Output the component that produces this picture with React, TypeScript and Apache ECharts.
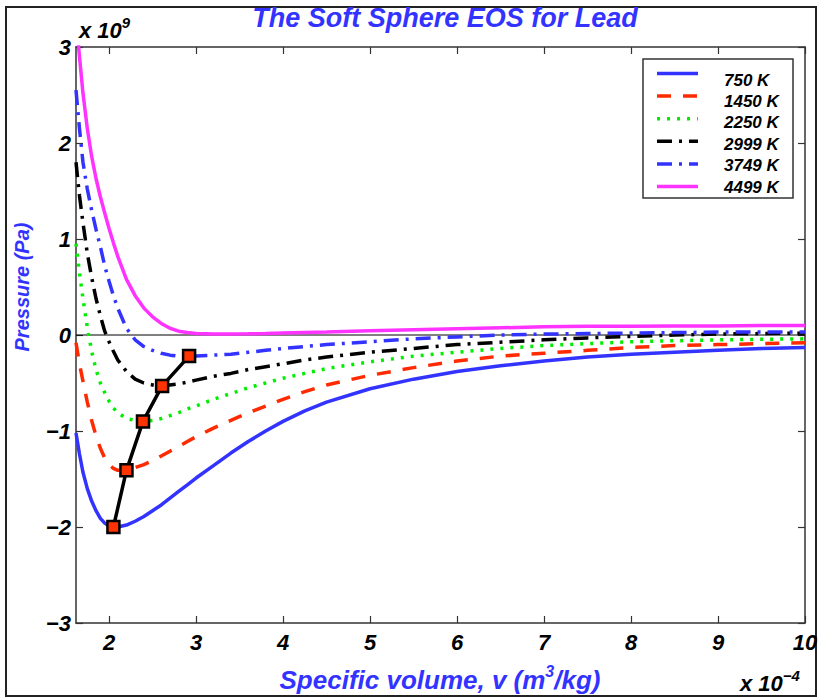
import React, { useEffect, useRef } from 'react';
import * as echarts from 'echarts';

// Specific volume (x 1e-4 m^3/kg)
const volumes = [1.62, 1.66, 1.70, 1.75, 1.80, 1.85, 1.90, 1.95, 2.00, 2.05, 2.10, 2.20, 2.30, 2.40, 2.50, 2.60, 2.70, 2.80, 2.90, 3.00, 3.20, 3.40, 3.60, 3.80, 4.00, 4.25, 4.50, 5.00, 5.50, 6.00, 6.50, 7.00, 7.50, 8.00, 8.50, 9.00, 9.50, 10.0];

// Pressure (x 1e9 Pa)
const p750 = [-1.02, -1.24, -1.43, -1.60, -1.73, -1.83, -1.91, -1.96, -1.99, -2.00, -2.00, -1.98, -1.94, -1.89, -1.83, -1.77, -1.70, -1.63, -1.56, -1.49, -1.36, -1.23, -1.11, -1.00, -0.90, -0.79, -0.70, -0.56, -0.46, -0.38, -0.32, -0.27, -0.23, -0.20, -0.18, -0.16, -0.14, -0.13];
const p1450 = [-0.08, -0.30, -0.48, -0.70, -0.89, -1.05, -1.18, -1.28, -1.35, -1.39, -1.41, -1.41, -1.38, -1.35, -1.31, -1.26, -1.21, -1.16, -1.11, -1.06, -0.97, -0.89, -0.81, -0.74, -0.67, -0.59, -0.52, -0.42, -0.34, -0.27, -0.22, -0.19, -0.16, -0.13, -0.11, -0.10, -0.09, -0.08];
const p2250 = [0.95, 0.65, 0.38, 0.08, -0.17, -0.36, -0.50, -0.60, -0.69, -0.76, -0.81, -0.87, -0.89, -0.90, -0.89, -0.87, -0.84, -0.81, -0.77, -0.74, -0.67, -0.61, -0.55, -0.50, -0.45, -0.40, -0.35, -0.28, -0.22, -0.18, -0.14, -0.11, -0.09, -0.07, -0.06, -0.05, -0.045, -0.04];
const p2999 = [1.80, 1.45, 1.17, 0.85, 0.60, 0.38, 0.20, 0.04, -0.07, -0.17, -0.26, -0.38, -0.46, -0.50, -0.52, -0.53, -0.52, -0.51, -0.49, -0.47, -0.43, -0.40, -0.36, -0.33, -0.30, -0.26, -0.23, -0.18, -0.14, -0.10, -0.075, -0.05, -0.03, -0.015, 0.0, 0.01, 0.015, 0.02];
const p3749 = [2.55, 2.15, 1.80, 1.52, 1.30, 1.10, 0.92, 0.72, 0.56, 0.41, 0.28, 0.07, -0.05, -0.12, -0.16, -0.19, -0.21, -0.22, -0.22, -0.22, -0.21, -0.20, -0.18, -0.16, -0.14, -0.12, -0.10, -0.07, -0.04, -0.02, 0.0, 0.01, 0.015, 0.02, 0.025, 0.03, 0.03, 0.03];
const p4499 = [3.30, 2.90, 2.52, 2.15, 1.86, 1.63, 1.44, 1.27, 1.11, 0.96, 0.82, 0.58, 0.41, 0.28, 0.19, 0.12, 0.07, 0.04, 0.025, 0.015, 0.01, 0.01, 0.012, 0.015, 0.02, 0.025, 0.03, 0.045, 0.055, 0.065, 0.075, 0.085, 0.09, 0.09, 0.095, 0.095, 0.10, 0.10];

// Minima locus
const minimaV = [2.05, 2.2, 2.39, 2.61, 2.92];
const minimaP = [-2.0, -1.41, -0.90, -0.53, -0.22];

const seriesNames = ['750 K', '1450 K', '2250 K', '2999 K', '3749 K', '4499 K'];
const xTicks = [2, 3, 4, 5, 6, 7, 8, 9, 10];

const FONT = '"Liberation Sans", Arial, Helvetica, sans-serif';
const BLUE = '#3333ff';
const COLORS = ['#3333ff', '#ff2a00', '#00ee00', '#000000', '#3333ff', '#ff33ff'];
const DASHES: any[] = ['solid', [14, 12], [3, 7], [15, 7, 3, 7], [15, 7, 3, 7], 'solid'];

export default function App() {
  const ref = useRef<HTMLDivElement>(null);
  useEffect(() => {
    const chart = echarts.init(ref.current!, null, { renderer: 'svg' });
    const allP = [p750, p1450, p2250, p2999, p3749, p4499];
    const fmt = (v: number) => (v < 0 ? '\u2212' + Math.abs(v) : String(v));
    const axisLineStyle = { color: '#333', width: 1.5 };
    const tickStyle = { color: '#333', width: 1.2 };
    const labelFont = { fontFamily: FONT, fontWeight: 'bold', fontStyle: 'italic', fontSize: 22, color: '#000' };

    const curveSeries = allP.map((ys, i) => ({
      name: seriesNames[i],
      type: 'line',
      data: volumes.map((v, k) => [v, ys[k]]),
      showSymbol: false,
      symbol: 'none',
      clip: true,
      silent: true,
      lineStyle: { color: COLORS[i], width: 3.5, type: DASHES[i], cap: 'butt' },
      z: 3,
    }));

    const legendRowY = (i: number) => 73.5 + 22.6 * i;
    const legendTextY = (i: number) => 80 + 21.4 * i;
    const legendEls: any[] = [
      { type: 'rect', shape: { x: 643, y: 59, width: 150, height: 139 }, style: { fill: '#fff', stroke: '#333', lineWidth: 1.5 }, z: 10 },
    ];
    seriesNames.forEach((n, i) => {
      const d = DASHES[i];
      legendEls.push({
        type: 'line',
        shape: { x1: 657, y1: legendRowY(i), x2: 698, y2: legendRowY(i) },
        style: { stroke: COLORS[i], lineWidth: 3.5, lineDash: Array.isArray(d) ? d : null, lineCap: 'butt' },
        z: 11,
      });
      legendEls.push({
        type: 'text',
        x: 724,
        y: legendTextY(i),
        style: { text: n, fontFamily: FONT, fontWeight: 'bold', fontStyle: 'italic', fontSize: 17, fill: '#000', verticalAlign: 'middle', align: 'left' },
        z: 11,
      });
    });

    const option: any = {
      animation: false,
      grid: { left: 76, top: 47, right: 16, bottom: 76, containLabel: false, outerBoundsMode: 'none' },
      xAxis: [
        {
          type: 'value', min: 1.62, max: 10, position: 'bottom',
          axisLine: { show: true, onZero: false, lineStyle: axisLineStyle },
          axisTick: { show: true, inside: true, length: 7, lineStyle: tickStyle, customValues: xTicks },
          axisLabel: { show: true, margin: 8, formatter: fmt, customValues: xTicks, ...labelFont },
          splitLine: { show: false },
        },
        {
          type: 'value', min: 1.62, max: 10, position: 'top',
          axisLine: { show: true, onZero: false, lineStyle: axisLineStyle },
          axisTick: { show: true, inside: true, length: 7, lineStyle: tickStyle, customValues: xTicks },
          axisLabel: { show: false },
          splitLine: { show: false },
        },
      ],
      yAxis: [
        {
          type: 'value', min: -3, max: 3, interval: 1, position: 'left',
          axisLine: { show: true, onZero: false, lineStyle: axisLineStyle },
          axisTick: { show: true, inside: true, length: 7, lineStyle: tickStyle },
          axisLabel: { show: true, margin: 5, formatter: fmt, ...labelFont },
          splitLine: { show: false },
        },
        {
          type: 'value', min: -3, max: 3, interval: 1, position: 'right',
          axisLine: { show: true, onZero: false, lineStyle: axisLineStyle },
          axisTick: { show: true, inside: true, length: 7, lineStyle: tickStyle },
          axisLabel: { show: false },
          splitLine: { show: false },
        },
      ],
      series: [
        {
          name: 'zero', type: 'line', data: [[1.62, 0], [10, 0]], showSymbol: false, symbol: 'none', silent: true,
          lineStyle: { color: '#000', width: 1 }, z: 1,
        },
        ...curveSeries,
        {
          name: 'minima', type: 'line', data: minimaV.map((v, k) => [v, minimaP[k]]),
          symbol: 'rect', symbolSize: 12, showSymbol: true, silent: true,
          itemStyle: { color: '#ff3300', borderColor: '#000', borderWidth: 2.5 },
          lineStyle: { color: '#000', width: 3.5 }, z: 5,
        },
      ],
      graphic: [
        { type: 'rect', shape: { x: 6, y: 7, width: 810, height: 689 }, style: { fill: 'none', stroke: '#222', lineWidth: 2 }, z: 0, silent: true },
        {
          type: 'text', x: 445, y: 18,
          style: { text: 'The Soft Sphere EOS for Lead', fontFamily: FONT, fontWeight: 'bold', fontStyle: 'italic', fontSize: 27, fill: BLUE, align: 'center', verticalAlign: 'middle' },
        },
        {
          type: 'text', x: 440, y: 680,
          style: {
            text: '{a|Specific volume, v (m}{s|3}{a|/kg)}', align: 'center', verticalAlign: 'middle',
            rich: {
              a: { fontFamily: FONT, fontWeight: 'bold', fontStyle: 'italic', fontSize: 26, fill: BLUE, color: BLUE, lineHeight: 34 },
              s: { fontFamily: FONT, fontWeight: 'bold', fontStyle: 'italic', fontSize: 16, fill: BLUE, color: BLUE, verticalAlign: 'top', lineHeight: 18 },
            },
          },
        },
        {
          type: 'text', x: 22, y: 287, rotation: Math.PI / 2,
          style: { text: 'Pressure (Pa)', fontFamily: FONT, fontWeight: 'bold', fontStyle: 'italic', fontSize: 20, fill: BLUE, align: 'center', verticalAlign: 'middle' },
        },
        {
          type: 'text', x: 79, y: 30,
          style: {
            text: '{a|x 10}{s|9}', align: 'left', verticalAlign: 'middle',
            rich: {
              a: { fontFamily: FONT, fontWeight: 'bold', fontStyle: 'italic', fontSize: 22, color: '#000', lineHeight: 30 },
              s: { fontFamily: FONT, fontWeight: 'bold', fontStyle: 'italic', fontSize: 15, color: '#000', verticalAlign: 'top', lineHeight: 16 },
            },
          },
        },
        {
          type: 'text', x: 740, y: 683,
          style: {
            text: '{a|x 10}{s|\u22124}', align: 'left', verticalAlign: 'middle',
            rich: {
              a: { fontFamily: FONT, fontWeight: 'bold', fontStyle: 'italic', fontSize: 22, color: '#000', lineHeight: 30 },
              s: { fontFamily: FONT, fontWeight: 'bold', fontStyle: 'italic', fontSize: 15, color: '#000', verticalAlign: 'top', lineHeight: 16 },
            },
          },
        },
        ...legendEls,
      ],
    };
    chart.setOption(option);
    return () => chart.dispose();
  }, []);
  return <div ref={ref} style={{ position: 'fixed', left: 0, top: 0, width: 821, height: 699, background: '#fff' }} />;
}
